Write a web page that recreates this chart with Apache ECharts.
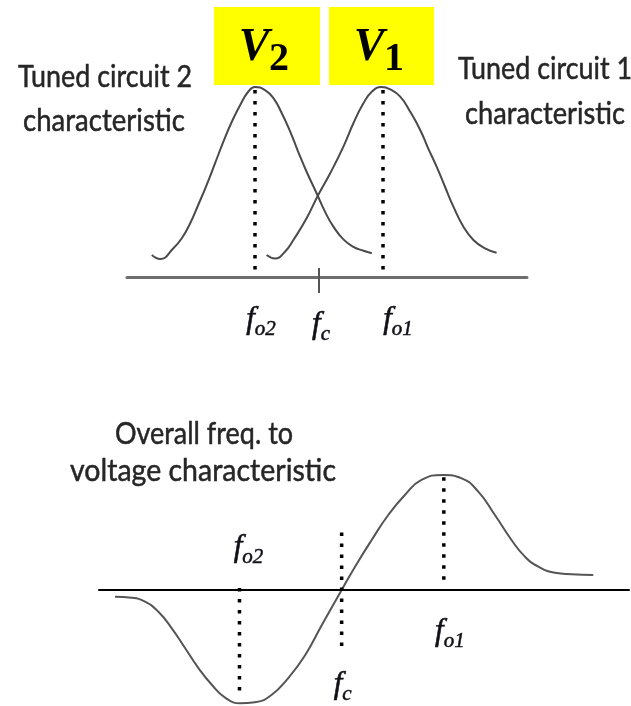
<!DOCTYPE html>
<html>
<head>
<meta charset="utf-8">
<script src="https://cdn.jsdelivr.net/npm/echarts@6/dist/echarts.min.js"></script>
<style>
  html, body { margin: 0; padding: 0; background: #ffffff; }
  #chart { width: 631px; height: 706px; }
</style>
</head>
<body>
<div id="chart"></div>
<script>
// Marker frequencies, shared by both panels (arbitrary frequency units)
const fo2 = 32, fc = 48, fo1 = 64;

// Tuned circuit 2 response: [frequency, relative voltage]
const tuned2 = [
  [6.2, 11.6], [8.3, 9.5], [11.6, 15.1], [13.7, 20.4], [15.8, 28.3], [17.8, 37.9],
  [19.9, 48.4], [22.0, 59.8], [24.1, 71.2], [26.2, 81.7], [28.3, 90.5], [30.3, 97.5],
  [32.0, 100], [34.5, 98.4], [36.6, 94.1], [38.7, 86.2], [40.8, 76.5], [42.8, 65.9],
  [44.9, 55.4], [47.4, 44.1], [49.5, 34.4], [51.6, 26.5], [54.1, 19.8], [56.6, 15.9],
  [59.1, 13.8], [61.2, 12.5]
];

// Tuned circuit 1 response: [frequency, relative voltage]
const tuned1 = [
  [34.9, 11.6], [37.0, 9.8], [39.5, 13.3], [41.6, 19.5], [44.9, 30.9], [47.8, 43.2],
  [50.8, 54.6], [54.1, 68.6], [56.6, 80.9], [59.1, 91.4], [61.2, 97.5], [63.6, 100],
  [65.8, 98.8], [68.3, 94.9], [70.8, 87.0], [73.3, 77.4], [75.3, 67.7], [77.4, 58.1],
  [79.5, 47.5], [81.6, 37.0], [84.1, 26.5], [86.6, 19.5], [89.5, 15.1], [92.4, 12.8]
];

// Overall discriminator output V1 - V2: [frequency, output voltage]
const overall = [
  [12.5, -5.8], [15.1, -6.7], [17.2, -10.2], [19.3, -18.9], [21.4, -33.3], [23.5, -50.7],
  [25.6, -68.1], [27.7, -82.6], [29.7, -93.3], [32.1, -98.5], [34.4, -97.7], [37.0, -91.3],
  [39.6, -76.8], [42.3, -56.5], [44.9, -30.4], [48.0, 0], [50.1, 20.3], [52.7, 43.5],
  [55.3, 65.2], [57.9, 82.6], [60.5, 95.7], [63.9, 100], [66.8, 97.1], [69.4, 85.5],
  [72.0, 65.2], [74.6, 43.5], [76.7, 29.0], [78.8, 20.3], [81.4, 15.0], [84.0, 13.7],
  [87.4, 13.0]
];

// Dotted drop lines: [frequency, from, to]
const topDrops = [[fo2, 98.4, 2.6], [fo1, 98.4, 2.6]];
const bottomDrops = [[fo2, 1.7, -91], [fc, 50, -52], [fo1, 98, 4.3]];

// Centre-frequency tick on the upper axis: [from, to]
const fcTick = [4.7, -8.4];

// Frequency marker labels: [subscript, frequency]
const topMarks = [['o2', fo2], ['c', fc], ['o1', fo1]];
const bottomMarks = [['o2', fo2], ['c', fc], ['o1', fo1]];

// Label placement relative to the axis point (pixels)
const topLabelOffsets = { o2: [6, 43], c: [2, 48], o1: [15, 43] };
const bottomLabelOffsets = { o2: [9, -42], c: [1, 95], o1: [6, 42] };

const chart = echarts.init(document.getElementById('chart'), null, { renderer: 'canvas' });

const dotStyle = { color: '#000000', width: 3.5, type: [3.5, 7.5], cap: 'butt' };

function dropSeries(d, idx) {
  return {
    type: 'line', xAxisIndex: idx, yAxisIndex: idx,
    data: [[d[0], d[1]], [d[0], d[2]]],
    symbol: 'none', lineStyle: dotStyle, silent: true, clip: false, z: 3, animation: false
  };
}

const mathInk = '#101018';
const mathRich = {
  f: { fontFamily: 'Liberation Serif', fontStyle: 'italic', fontSize: 31, lineHeight: 40,
       color: mathInk, textBorderColor: mathInk, textBorderWidth: 0.6 },
  s: { fontFamily: 'Liberation Serif', fontStyle: 'italic', fontSize: 21, lineHeight: 20,
       verticalAlign: 'bottom', color: mathInk, textBorderColor: mathInk, textBorderWidth: 0.5 }
};

function labelSeries(marks, offsets, idx) {
  return {
    type: 'scatter', xAxisIndex: idx, yAxisIndex: idx, symbolSize: 1, silent: true, clip: false,
    animation: false, z: 5,
    itemStyle: { color: 'rgba(0,0,0,0)', opacity: 1 },
    data: marks.map(m => ({
      value: [m[1], 0],
      label: {
        show: true, position: 'inside', offset: offsets[m[0]], color: mathInk, opacity: 1,
        formatter: '{f|f}{s|' + m[0] + '}', rich: mathRich
      }
    }))
  };
}

// Caption text: scaled horizontally to the narrow face used in the figure
const measureCtx = document.createElement('canvas').getContext('2d');
const captionFont = { family: 'Lato', size: 31 };
function caption(text, cx, baseline, width) {
  measureCtx.font = captionFont.size + 'px ' + captionFont.family;
  const w = measureCtx.measureText(text).width;
  return {
    type: 'text', x: cx, y: baseline - 12, scaleX: width / w, silent: true,
    style: {
      text: text, x: 0, y: 0, align: 'center', verticalAlign: 'middle',
      fontFamily: captionFont.family, fontSize: captionFont.size, fill: '#262626',
      stroke: '#262626', lineWidth: 0.5
    }
  };
}

function voltBox(left, width, main, sub, vx, dx) {
  return [
    { type: 'rect', shape: { x: left, y: 7, width: width, height: 78 }, style: { fill: '#ffff00' }, silent: true },
    { type: 'text', x: vx, y: 48, silent: true,
      style: { text: main, align: 'center', verticalAlign: 'middle', fontFamily: 'Liberation Serif',
               fontStyle: 'italic', fontWeight: 'bold', fontSize: 46, fill: '#000' } },
    { type: 'text', x: dx, y: 60, silent: true,
      style: { text: sub, align: 'center', verticalAlign: 'middle', fontFamily: 'Liberation Serif',
               fontWeight: 'bold', fontSize: 40, fill: '#000' } }
  ];
}

const hiddenY = {
  type: 'value', axisLine: { show: false }, axisTick: { show: false },
  axisLabel: { show: false }, splitLine: { show: false }
};

chart.setOption({
  animation: false,
  backgroundColor: '#ffffff',
  grid: [
    { left: 127, right: 104, top: 87, height: 247 },
    { left: 99, right: 2, top: 475, height: 230 }
  ],
  xAxis: [
    { gridIndex: 0, type: 'value', min: 0, max: 100,
      axisLine: { show: true, onZero: true, lineStyle: { color: '#6e6e6e', width: 3 } },
      axisTick: { show: false }, axisLabel: { show: false }, splitLine: { show: false } },
    { gridIndex: 1, type: 'value', min: 10, max: 93,
      axisLine: { show: true, onZero: true, lineStyle: { color: '#000000', width: 2 } },
      axisTick: { show: false }, axisLabel: { show: false }, splitLine: { show: false } }
  ],
  yAxis: [
    Object.assign({ gridIndex: 0, min: -30, max: 100 }, hiddenY),
    Object.assign({ gridIndex: 1, min: -100, max: 100 }, hiddenY)
  ],
  series: [
    { type: 'line', name: 'Tuned circuit 2', xAxisIndex: 0, yAxisIndex: 0, data: tuned2,
      smooth: 0.5, symbol: 'none', clip: false, lineStyle: { color: '#4a4a4a', width: 2 } },
    { type: 'line', name: 'Tuned circuit 1', xAxisIndex: 0, yAxisIndex: 0, data: tuned1,
      smooth: 0.5, symbol: 'none', clip: false, lineStyle: { color: '#4a4a4a', width: 2 } },
    { type: 'line', name: 'fc tick', xAxisIndex: 0, yAxisIndex: 0,
      data: [[fc, fcTick[0]], [fc, fcTick[1]]], symbol: 'none', clip: false,
      lineStyle: { color: '#555555', width: 2 } },
    ...topDrops.map(d => dropSeries(d, 0)),
    labelSeries(topMarks, topLabelOffsets, 0),

    { type: 'line', name: 'Overall', xAxisIndex: 1, yAxisIndex: 1, data: overall,
      smooth: 0.5, symbol: 'none', clip: false, lineStyle: { color: '#555555', width: 2 } },
    ...bottomDrops.map(d => dropSeries(d, 1)),
    labelSeries(bottomMarks, bottomLabelOffsets, 1)
  ],
  graphic: [
    ...voltBox(214, 106, 'V', '2', 254, 279),
    ...voltBox(329, 105, 'V', '1', 369, 394),
    caption('Tuned circuit 2', 105, 89, 174),
    caption('characteristic', 104, 133, 162),
    caption('Tuned circuit 1', 545, 81, 174),
    caption('characteristic', 545, 126, 160),
    caption('Overall freq. to', 204, 446, 178),
    caption('voltage characteristic', 203, 483, 266)
  ]
});
</script>
</body>
</html>
